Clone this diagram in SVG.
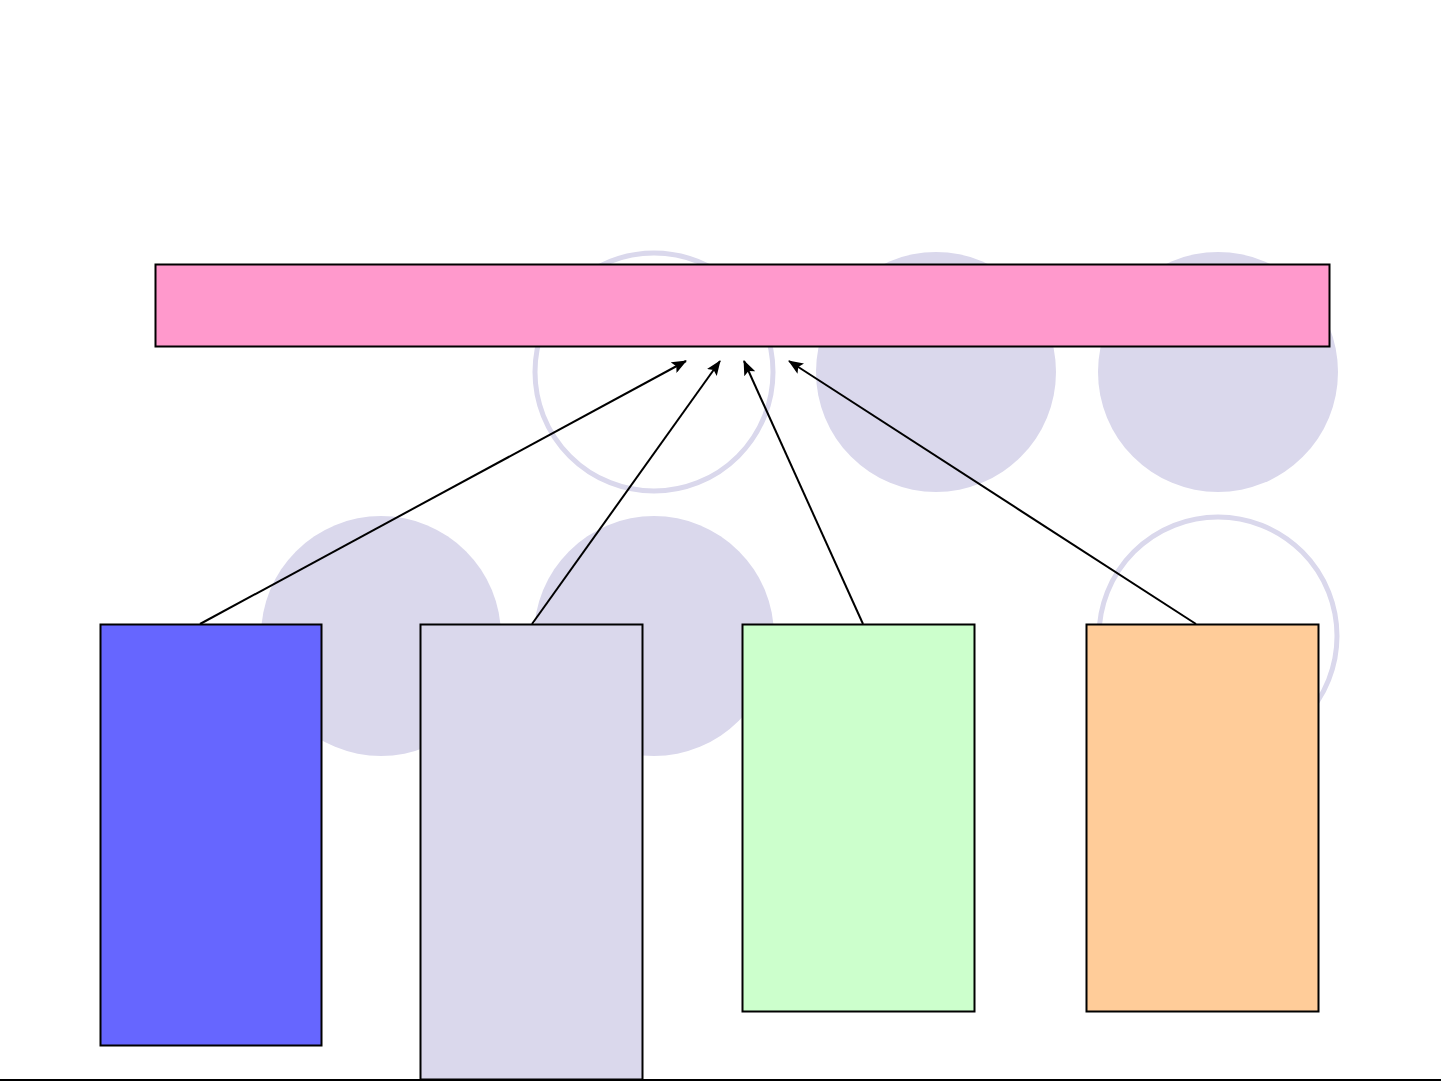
<svg xmlns="http://www.w3.org/2000/svg" width="1441" height="1081" viewBox="0 0 1441 1081">
<defs>
<style>
.circ{fill:#DAD8EC}
.ring{fill:none;stroke:#DAD8EC;stroke-width:5}
.box{stroke:#000;stroke-width:2}
.conn{stroke:#000;stroke-width:2;fill:none;marker-end:url(#ah)}
</style>
<marker id="ah" viewBox="0 0 15 12" refX="14" refY="6" markerWidth="15" markerHeight="12" markerUnits="userSpaceOnUse" orient="auto">
<path d="M0,0 L15,6 L0,12 L3,6 z" fill="#000"/>
</marker>
</defs>
<rect width="1441" height="1081" fill="#fff"/>
<g id="background">
<circle class="ring" cx="654" cy="372" r="119"/>
<circle class="circ" cx="936" cy="372" r="120"/>
<circle class="circ" cx="1218" cy="372" r="120"/>
<circle class="circ" cx="381" cy="636" r="120"/>
<circle class="circ" cx="654" cy="636" r="120"/>
<circle class="ring" cx="1218" cy="636" r="119"/>
</g>
<g id="top-bar"><rect class="box" x="155.5" y="264.5" width="1174" height="82" fill="#FF99CC"/></g>
<g id="box-blue"><rect class="box" x="100.5" y="624.5" width="221" height="421" fill="#6666FF"/></g>
<g id="box-lavender"><rect class="box" x="420.5" y="624.5" width="222" height="455" fill="#DAD8EC"/></g>
<g id="box-green"><rect class="box" x="742.5" y="624.5" width="232" height="387" fill="#CCFFCC"/></g>
<g id="box-orange"><rect class="box" x="1086.5" y="624.5" width="232" height="387" fill="#FFCC99"/></g>
<g id="connectors">
<line class="conn" x1="200" y1="624" x2="686" y2="361"/>
<line class="conn" x1="532" y1="624" x2="720" y2="361"/>
<line class="conn" x1="863" y1="624" x2="744" y2="361"/>
<line class="conn" x1="1196" y1="624" x2="789" y2="361"/>
</g>
<line x1="0" y1="1080" x2="1441" y2="1080" stroke="#000" stroke-width="2"/>
</svg>
